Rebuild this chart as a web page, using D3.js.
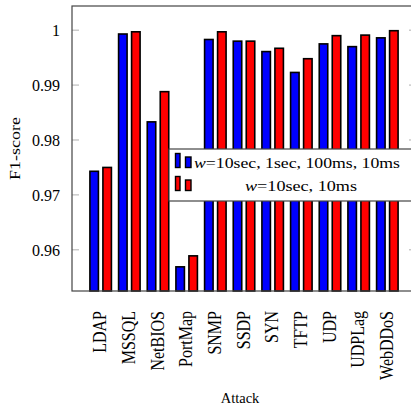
<!DOCTYPE html>
<html>
<head>
<meta charset="utf-8">
<script src="https://cdn.jsdelivr.net/npm/d3@7"></script>
<style>
  html, body { margin: 0; padding: 0; background: #fff; }
  svg { display: block; }
  text { font-family: "Liberation Serif", "Times New Roman", serif; fill: #000; }
</style>
</head>
<body>
<svg id="chart" width="411" height="408"></svg>
<script>
// Attack classes and F1-scores per window configuration
const attacks = ["LDAP", "MSSQL", "NetBIOS", "PortMap", "SNMP", "SSDP", "SYN", "TFTP", "UDP", "UDPLag", "WebDDoS"];
const scoresAllWindows = [0.9743, 0.9993, 0.9833, 0.9569, 0.9983, 0.9980, 0.9961, 0.9923, 0.9975, 0.9970, 0.9986];
const scoresTwoWindows = [0.9750, 0.9997, 0.9888, 0.9589, 0.9997, 0.9980, 0.9967, 0.9948, 0.9990, 0.9991, 0.9999];
const yTicks = [0.96, 0.97, 0.98, 0.99, 1];
const yTickLabels = ["0.96", "0.97", "0.98", "0.99", "1"];
const legendLabels = ["=10sec, 1sec, 100ms, 10ms", "=10sec, 10ms"];

const svg = d3.select("#chart");
const frame = { left: 72, right: 416, top: 6, bottom: 291 };

const x = d3.scaleLinear().domain([-1, attacks.length]).range([frame.left, frame.right]);
const y = d3.scaleLinear().domain([0.9525, 1.0044]).range([frame.bottom, frame.top]);

const barW = 8.5, barGap = 2.25;
const colors = ["#0000ff", "#ff0000"];
const series = [scoresAllWindows, scoresTwoWindows];

// bars
series.forEach((vals, s) => {
  svg.append("g").selectAll("rect").data(vals).join("rect")
    .attr("x", (d, i) => s === 0 ? x(i) - barGap - barW : x(i) + barGap)
    .attr("width", barW)
    .attr("y", d => y(d))
    .attr("height", d => y.range()[0] - y(d))
    .attr("fill", colors[s])
    .attr("stroke", "#000")
    .attr("stroke-width", 1.6);
});

// left axis labels
const yAxis = d3.axisLeft(y).tickValues(yTicks).tickSize(0).tickFormat((d, i) => yTickLabels[i]);
const ga = svg.append("g").attr("transform", `translate(${frame.left - 9},0)`).call(yAxis);
ga.select(".domain").remove();
ga.selectAll("text")
  .attr("font-family", "Liberation Serif").attr("font-size", 16).attr("fill", "#000")
  .attr("dx", 0).attr("dy", "0.33em");

// inner ticks on both sides
[[frame.left, 7], [frame.right, -7]].forEach(([x0, len]) => {
  svg.append("g").selectAll("line").data(yTicks).join("line")
    .attr("x1", x0).attr("x2", x0 + len)
    .attr("y1", d => y(d)).attr("y2", d => y(d))
    .attr("stroke", "#b0b0b0").attr("stroke-width", 1);
});

// frame
svg.append("rect")
  .attr("x", frame.left).attr("y", frame.top)
  .attr("width", frame.right - frame.left).attr("height", frame.bottom - frame.top)
  .attr("fill", "none").attr("stroke", "#444").attr("stroke-width", 1.2);

// category labels
svg.append("g").selectAll("text").data(attacks).join("text")
  .attr("transform", (d, i) => `translate(${x(i) + 5.5},311) scale(1.15,1) rotate(-90)`)
  .attr("text-anchor", "end")
  .attr("font-size", 16)
  .text(d => d);

// axis titles
svg.append("text").attr("x", 240).attr("y", 403).attr("text-anchor", "middle")
  .attr("font-size", 14.5).text("Attack");
svg.append("text").attr("transform", `translate(20,148.5) rotate(-90)`).attr("text-anchor", "middle")
  .attr("font-size", 15).attr("textLength", 63).attr("lengthAdjust", "spacingAndGlyphs").text("F1-score");

// legend
const lg = svg.append("g");
lg.append("rect").attr("x", 169).attr("y", 149).attr("width", 260).attr("height", 52)
  .attr("fill", "#fff").attr("stroke", "#444").attr("stroke-width", 1.2);
const rows = [{ top: 153.5, base: 168, x0: 194, len: 206 }, { top: 176.5, base: 191, x0: 245, len: 112 }];
rows.forEach((r, k) => {
  lg.append("rect").attr("x", 175.5).attr("y", r.top).attr("width", 4.5).attr("height", r.base - r.top - 0.5)
    .attr("fill", colors[k]).attr("stroke", "#000").attr("stroke-width", 1.4);
  lg.append("rect").attr("x", 185.5).attr("y", r.top + 3.5).attr("width", 5.5).attr("height", r.base - r.top - 4)
    .attr("fill", colors[k]).attr("stroke", "#000").attr("stroke-width", 1.4);
  const t = lg.append("text").attr("x", r.x0).attr("y", r.base).attr("font-size", 15)
    .attr("textLength", r.len).attr("lengthAdjust", "spacingAndGlyphs");
  t.append("tspan").attr("font-style", "italic").text("w");
  t.append("tspan").text(legendLabels[k]);
});
</script>
</body>
</html>
